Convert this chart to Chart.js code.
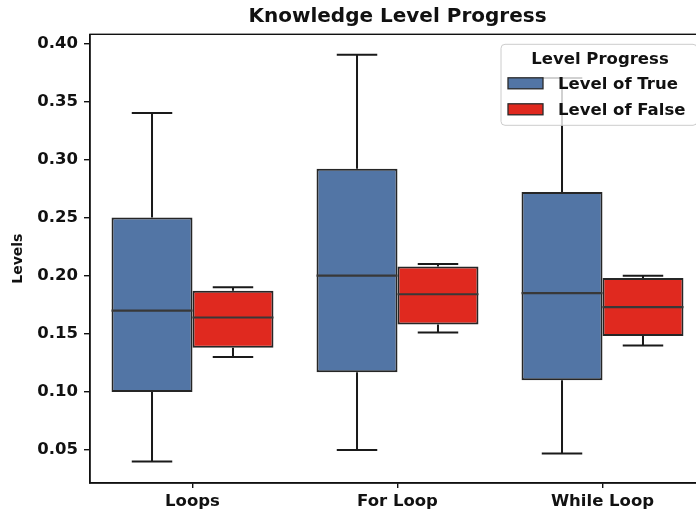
<!DOCTYPE html>
<html>
<head>
<meta charset="utf-8">
<script src="https://cdn.jsdelivr.net/npm/chart.js@4/dist/chart.umd.min.js"></script>
<style>
  html, body { margin: 0; padding: 0; background: #fff; overflow: hidden; }
  #wrap { width: 795px; height: 513px; }
</style>
</head>
<body>
<div id="wrap"><canvas id="myChart" width="795" height="513"></canvas></div>
<script>
// categories and box statistics
var categories = ['Loops', 'For Loop', 'While Loop'];

var trueLow  = [0.040, 0.050, 0.047];
var trueQ1   = [0.100, 0.117, 0.110];
var trueMed  = [0.170, 0.200, 0.185];
var trueQ3   = [0.250, 0.292, 0.272];
var trueHigh = [0.340, 0.390, 0.370];

var falseLow  = [0.130, 0.151, 0.140];
var falseQ1   = [0.138, 0.158, 0.148];
var falseMed  = [0.164, 0.184, 0.173];
var falseQ3   = [0.187, 0.208, 0.198];
var falseHigh = [0.190, 0.210, 0.200];

var yTicks = [0.05, 0.10, 0.15, 0.20, 0.25, 0.30, 0.35, 0.40];

var blue = '#5275a5';
var red = '#e0291f';
var font = 'DejaVu Sans';

var stats = [
  { low: trueLow, q1: trueQ1, med: trueMed, q3: trueQ3, high: trueHigh },
  { low: falseLow, q1: falseQ1, med: falseMed, q3: falseQ3, high: falseHigh }
];

// medians + whiskers on top of the floating bars
var boxPlugin = {
  id: 'boxParts',
  afterDatasetsDraw: function(chart) {
    var ctx = chart.ctx;
    var y = chart.scales.y;
    ctx.save();
    stats.forEach(function(s, d) {
      var meta = chart.getDatasetMeta(d);
      meta.data.forEach(function(bar, i) {
        var x = bar.x, w = bar.width;
        // whiskers
        ctx.strokeStyle = '#1a1a1a';
        ctx.lineWidth = 2;
        ctx.beginPath();
        ctx.moveTo(x, y.getPixelForValue(s.q3[i]));
        ctx.lineTo(x, y.getPixelForValue(s.high[i]));
        ctx.moveTo(x, y.getPixelForValue(s.q1[i]));
        ctx.lineTo(x, y.getPixelForValue(s.low[i]));
        ctx.moveTo(x - w / 4, y.getPixelForValue(s.high[i]));
        ctx.lineTo(x + w / 4, y.getPixelForValue(s.high[i]));
        ctx.moveTo(x - w / 4, y.getPixelForValue(s.low[i]));
        ctx.lineTo(x + w / 4, y.getPixelForValue(s.low[i]));
        ctx.stroke();
        // median
        ctx.strokeStyle = '#383838';
        ctx.lineWidth = 2.2;
        ctx.beginPath();
        ctx.moveTo(x - w / 2, y.getPixelForValue(s.med[i]));
        ctx.lineTo(x + w / 2, y.getPixelForValue(s.med[i]));
        ctx.stroke();
      });
    });
    ctx.restore();
  },
  afterDraw: function(chart) {
    var ctx = chart.ctx;
    var a = chart.chartArea;
    ctx.save();
    // frame
    ctx.strokeStyle = '#111';
    ctx.lineWidth = 1.4;
    ctx.strokeRect(a.left, a.top, a.right - a.left, a.bottom - a.top);

    // legend box (upper right)
    var bw = 196, bh = 81;
    var bx = a.right - 8 - bw, by = a.top + 10;
    ctx.fillStyle = 'rgba(255,255,255,0.8)';
    ctx.strokeStyle = '#cccccc';
    ctx.lineWidth = 1;
    ctx.beginPath();
    ctx.roundRect(bx, by, bw, bh, 4);
    ctx.fill();
    ctx.stroke();

    ctx.fillStyle = '#111';
    ctx.font = 'bold 16.5px "' + font + '"';
    ctx.textAlign = 'center';
    ctx.textBaseline = 'middle';
    ctx.fillText('Level Progress', bx + bw / 2 + 1, by + 15);

    var items = [['Level of True', blue], ['Level of False', red]];
    ctx.textAlign = 'left';
    items.forEach(function(it, k) {
      var cy = by + 39 + k * 26;
      ctx.fillStyle = it[1];
      ctx.fillRect(bx + 7, cy - 5.5, 35, 11);
      ctx.strokeStyle = '#2a2a2a';
      ctx.lineWidth = 1.3;
      ctx.strokeRect(bx + 7, cy - 5.5, 35, 11);
      ctx.fillStyle = '#111';
      ctx.fillText(it[0], bx + 57, cy + 1);
    });
    ctx.restore();
  }
};

var ctx = document.getElementById('myChart').getContext('2d');

var myChart = new Chart(ctx, {
  type: 'bar',
  data: {
    labels: categories,
    datasets: [{
      label: 'Level of True',
      data: categories.map(function(c, i) { return [trueQ1[i], trueQ3[i]]; }),
      backgroundColor: blue,
      borderColor: '#262626',
      borderWidth: 2,
      borderSkipped: false
    }, {
      label: 'Level of False',
      data: categories.map(function(c, i) { return [falseQ1[i], falseQ3[i]]; }),
      backgroundColor: red,
      borderColor: '#262626',
      borderWidth: 2,
      borderSkipped: false
    }]
  },
  options: {
    responsive: false,
    animation: false,
    devicePixelRatio: 1,
    categoryPercentage: 0.79,
    barPercentage: 1.0,
    layout: { padding: 0 },
    plugins: {
      legend: { display: false },
      tooltip: { enabled: false },
      title: {
        display: true,
        text: 'Knowledge Level Progress',
        color: '#111',
        font: { family: font, size: 20, weight: 'bold' },
        padding: { top: 5, bottom: 5.3 }
      }
    },
    scales: {
      x: {
        grid: { display: true, drawOnChartArea: false, offset: false, tickLength: 5, color: '#111', lineWidth: 1.4 },
        border: { display: true, color: '#111', width: 1.4 },
        ticks: { color: '#111', padding: 4, font: { family: font, size: 16.5, weight: 'bold' } },
        afterFit: function(s) { s.height = 30; }
      },
      y: {
        min: 0.0216,
        max: 0.4077,
        grid: { display: true, drawOnChartArea: false, tickLength: 6, color: '#111', lineWidth: 1.4 },
        border: { display: true, color: '#111', width: 1.4 },
        afterBuildTicks: function(s) { s.ticks = yTicks.map(function(v) { return { value: v }; }); },
        ticks: {
          color: '#111',
          padding: 6,
          font: { family: font, size: 16.5, weight: 'bold' },
          callback: function(v) { return Number(v).toFixed(2); }
        },
        title: {
          display: true,
          text: 'Levels',
          color: '#111',
          padding: { top: 10, bottom: 0 },
          font: { family: font, size: 14, weight: 'bold' }
        },
        afterFit: function(s) { s.width = 90; }
      },
      // keeps the title centred over the plot area, like the original
      y2: {
        position: 'right',
        display: true,
        grid: { display: false, drawTicks: false },
        border: { display: false },
        ticks: { display: false },
        afterFit: function(s) { s.width = 90; }
      }
    }
  },
  plugins: [boxPlugin]
});
</script>
</body>
</html>
